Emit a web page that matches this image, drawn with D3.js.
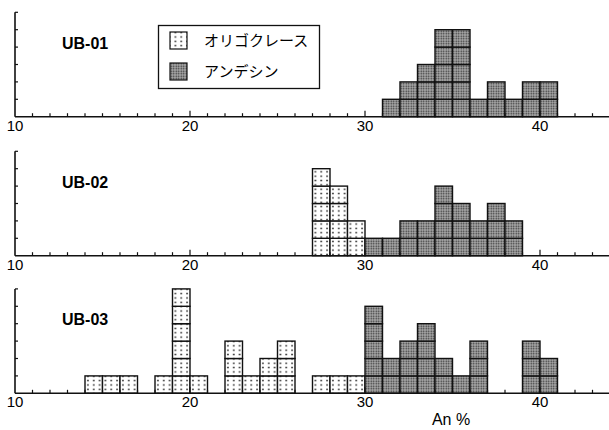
<!DOCTYPE html>
<html lang="ja">
<head>
<meta charset="UTF-8" />
<title>An % histograms</title>
<script src="https://d3js.org/d3.v7.min.js"></script>
<style>
  body { margin: 0; background: #fff; }
  svg { display: block; }
  .tick-label { font-family: "Liberation Sans", Arial, sans-serif; font-size: 15px; }
  .panel-title { font-family: "Liberation Sans", Arial, sans-serif; font-size: 16px; font-weight: bold; }
  .legend-text { font-family: "Noto Sans CJK JP", sans-serif; font-size: 15px; }
</style>
</head>
<body>
<svg id="chart" width="609" height="430"></svg>
<script>
// bins are 1 An% wide: [bin start, count]
const samples = ["UB-01", "UB-02", "UB-03"];
const ub01Oligoclase = [];
const ub01Andesine = [[31,1],[32,2],[33,3],[34,5],[35,5],[36,1],[37,2],[38,1],[39,2],[40,2]];
const ub02Oligoclase = [[27,5],[28,4],[29,2]];
const ub02Andesine = [[30,1],[31,1],[32,2],[33,2],[34,4],[35,3],[36,2],[37,3],[38,2]];
const ub03Oligoclase = [[14,1],[15,1],[16,1],[18,1],[19,6],[20,1],[22,3],[23,1],[24,2],[25,3],[27,1],[28,1],[29,1]];
const ub03Andesine = [[30,5],[31,2],[32,3],[33,4],[34,2],[35,1],[36,3],[39,3],[40,2]];
const xTickLabels = [10, 20, 30, 40];
const legendLabels = ["オリゴクレース", "アンデシン"];

const oligData = [ub01Oligoclase, ub02Oligoclase, ub03Oligoclase];
const andData = [ub01Andesine, ub02Andesine, ub03Andesine];
const baselines = [116.7, 255.7, 393.3];

const svg = d3.select("#chart");
const x = d3.scaleLinear().domain([10, 40]).range([15, 540]);
const unitH = 17.4;

// fill patterns
const defs = svg.append("defs");
const pOlig = defs.append("pattern").attr("id", "olig")
  .attr("patternUnits", "userSpaceOnUse")
  .attr("width", 17.5 / 3).attr("height", unitH / 4)
  .attr("x", 15).attr("y", 0);
pOlig.append("rect").attr("width", 17.5 / 3).attr("height", unitH / 4).attr("fill", "#fff");
pOlig.append("circle").attr("cx", 17.5 / 6).attr("cy", unitH / 8).attr("r", 0.9).attr("fill", "#222");

const pAnd = defs.append("pattern").attr("id", "ande")
  .attr("patternUnits", "userSpaceOnUse")
  .attr("width", 2.5).attr("height", 2.5);
pAnd.append("rect").attr("width", 2.5).attr("height", 2.5).attr("fill", "#ababab");
pAnd.append("circle").attr("cx", 1.25).attr("cy", 1.25).attr("r", 0.8).attr("fill", "#333");

samples.forEach((name, i) => {
  const base = baselines[i];
  const y = d3.scaleLinear().domain([0, 6]).range([base, base - 6 * unitH]);
  const g = svg.append("g");

  // unit squares
  const cells = [];
  oligData[i].forEach(([s, c]) => d3.range(c).forEach(k => cells.push({ s, k, fill: "url(#olig)" })));
  andData[i].forEach(([s, c]) => d3.range(c).forEach(k => cells.push({ s, k, fill: "url(#ande)" })));
  g.selectAll("rect.cell").data(cells).join("rect")
    .attr("class", "cell")
    .attr("x", d => x(d.s))
    .attr("y", d => y(d.k + 1))
    .attr("width", d => x(d.s + 1) - x(d.s))
    .attr("height", d => y(d.k) - y(d.k + 1))
    .attr("fill", d => d.fill)
    .attr("stroke", "#111")
    .attr("stroke-width", 1.4);

  // x axis line and ticks (pointing up)
  g.append("line").attr("x1", x(10)).attr("x2", 609)
    .attr("y1", base).attr("y2", base).attr("stroke", "#111").attr("stroke-width", 1.6);
  g.selectAll("line.xt").data(d3.range(11, 44)).join("line")
    .attr("x1", d => x(d)).attr("x2", d => x(d))
    .attr("y1", base).attr("y2", d => base - (d % 10 === 0 ? 6 : 3.5))
    .attr("stroke", "#111").attr("stroke-width", 1.2);
  g.selectAll("text.xl").data(xTickLabels).join("text")
    .attr("class", "tick-label")
    .attr("x", d => x(d)).attr("y", base + 14)
    .attr("text-anchor", "middle").text(d => d);

  // y axis line and ticks (pointing right)
  g.append("line").attr("x1", x(10)).attr("x2", x(10))
    .attr("y1", y(6)).attr("y2", base).attr("stroke", "#111").attr("stroke-width", 1.6);
  g.selectAll("line.yt").data(d3.range(1, 7)).join("line")
    .attr("x1", x(10)).attr("x2", x(10) + 3)
    .attr("y1", d => y(d)).attr("y2", d => y(d))
    .attr("stroke", "#111").attr("stroke-width", 1.2);

  g.append("text").attr("class", "panel-title")
    .attr("x", 62).attr("y", base - 68).text(name);
});

// legend
const lg = svg.append("g");
lg.append("rect").attr("x", 158.5).attr("y", 25.5).attr("width", 161).attr("height", 63)
  .attr("fill", "#fff").attr("stroke", "#111").attr("stroke-width", 1.3);
legendLabels.forEach((t, j) => {
  const yy = 32 + j * 31;
  lg.append("rect").attr("x", 170).attr("y", yy).attr("width", 17).attr("height", 17)
    .attr("fill", j === 0 ? "url(#olig)" : "url(#ande)").attr("stroke", "#111").attr("stroke-width", 1.2);
  lg.append("text").attr("class", "legend-text").attr("x", 204).attr("y", yy + 14).text(t);
});

svg.append("text").attr("class", "tick-label")
  .attr("x", 451).attr("y", 425).attr("text-anchor", "middle")
  .style("font-size", "16px").text("An %");
</script>
</body>
</html>
